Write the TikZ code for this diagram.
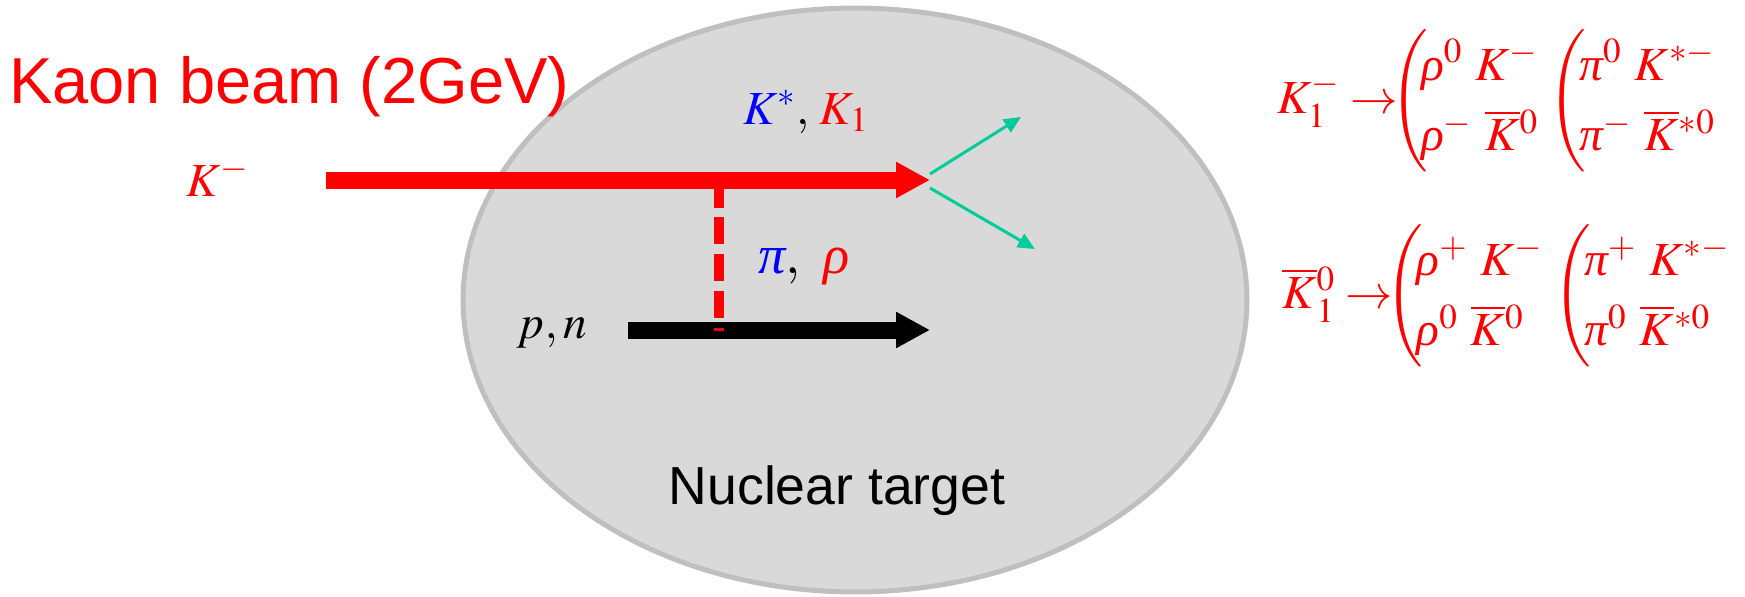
\documentclass[tikz,border=0pt]{standalone}
\usepackage{amsmath}
\usepackage{mathptmx}
\usepackage[no-math]{fontspec}
\newfontfamily\arialfont{Liberation Sans}
\newfontfamily\greekfont{Liberation Serif}
\usepackage{xcolor}
\usetikzlibrary{arrows.meta,shapes.geometric}
\definecolor{targetfill}{HTML}{D9D9D9}
\definecolor{targetline}{HTML}{BFBFBF}
\definecolor{decaygreen}{HTML}{00CC99}
\renewcommand{\arraystretch}{1.25}
\newcommand{\gpi}{\mathord{\text{\greekfont\itshape π}}}
\newcommand{\grho}{\mathord{\text{\greekfont\itshape ρ}}}
\tikzset{
  target/.style={ellipse,draw=targetline,line width=0.1cm,fill=targetfill,
    minimum width=15.68cm,minimum height=11.68cm,inner sep=0pt},
  thickarrow/.style={line width=0.34cm,-{Triangle[length=0.68cm,width=0.68cm]}},
  decayarrow/.style={decaygreen,line width=0.06cm,-{Triangle[length=0.34cm,width=0.3cm]}},
  exchline/.style={red,line width=0.2cm,dash pattern=on 0.55cm off 0.19cm},
  mathlbl/.style={inner sep=0pt,font=\fontsize{27}{32}\selectfont},
  decaylbl/.style={mathlbl,anchor=base west,red,text height=1.5cm,text depth=1.1cm},
  sanslbl/.style={inner sep=0pt,font=\arialfont\fontsize{30.5}{36}\selectfont},
}

\begin{document}
\begin{tikzpicture}[x=0.02cm,y=-0.02cm]
  \useasboundingbox (0,0) rectangle (1745,596);
  \node[target] (nucleus) at (855,300) {};
  \node[sanslbl,anchor=base west,red,font=\arialfont\fontsize{37}{44}\selectfont] (beamtitle) at (9,103) {Kaon beam (2GeV)};
  \node[sanslbl,anchor=base] (targetname) at (837,504) {Nuclear target};

  \coordinate (beamstart) at (326,180);
  \coordinate (vertex) at (930,180);
  \coordinate (nucstart) at (628,330);
  \coordinate (nucend) at (930,330);
  \coordinate (exchtop) at (719,180);
  \coordinate (exchbot) at (719,331);
  \coordinate (upstart) at (930,174);
  \coordinate (upend) at (1021,117);
  \coordinate (downstart) at (930,188);
  \coordinate (downend) at (1035,249);

  \draw[thickarrow,black] (nucstart) -- (nucend);
  \draw[exchline] (exchtop) -- (exchbot);
  \draw[thickarrow,red] (beamstart) -- (vertex);
  \draw[decayarrow] (upstart) -- (upend);
  \draw[decayarrow] (downstart) -- (downend);

  \node[mathlbl,anchor=base west,red] (kminus) at (186,196) {$K^-$};
  \node[mathlbl,anchor=base west] (reso) at (743,124) {${\color{blue}K^{*}},\,{\color{red}K_1}$};
  \node[mathlbl,anchor=base west,font=\fontsize{31}{36}\selectfont] (exch) at (758,273) {${\color{blue}\gpi},\ {\color{red}\grho}$};
  \node[mathlbl,anchor=base west] (nucleon) at (517,338) {$p,n$};

  \node[decaylbl] (kone) at (1277,113)
    {$K_1^- \to\hspace{-10pt}\left(\hspace{-4pt}\begin{array}{@{}l@{}} \grho^0\mkern5mu K^- \\ \grho^-\mkern5mu\overline{K}{}^0 \end{array}\right.\hspace{2pt}
      \left(\hspace{-4pt}\begin{array}{@{}l@{}} \gpi^0\mkern5mu K^{*-} \\ \gpi^-\mkern5mu\overline{K}{}^{*0} \end{array}\right.$};
  \node[decaylbl] (kzero) at (1282,308)
    {$\overline{K}{}_1^0 \to\hspace{-10pt}\left(\hspace{-4pt}\begin{array}{@{}l@{}} \grho^+\mkern5mu K^- \\ \grho^0\mkern5mu\overline{K}{}^0 \end{array}\right.\hspace{2pt}
      \left(\hspace{-4pt}\begin{array}{@{}l@{}} \gpi^+\mkern5mu K^{*-} \\ \gpi^0\mkern5mu\overline{K}{}^{*0} \end{array}\right.$};
\end{tikzpicture}
\end{document}
